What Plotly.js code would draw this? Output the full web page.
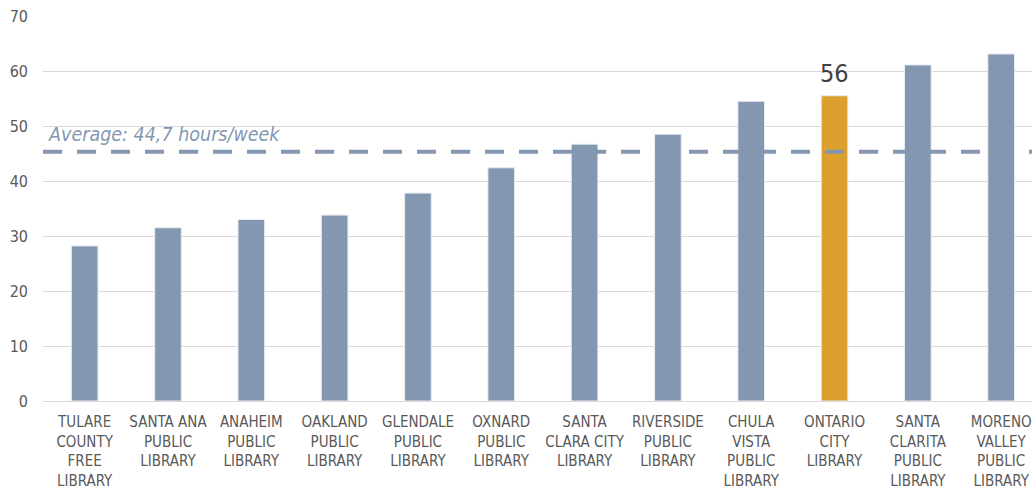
<!DOCTYPE html>
<html>
<head>
<meta charset="utf-8">
<script src="https://cdn.plot.ly/plotly-3.0.1.min.js"></script>
<style>html,body{margin:0;padding:0;background:#fff;}#chart{width:1032px;height:489px;}</style>
</head>
<body>
<div id="chart"></div>
<script>
const libraries = [
  "TULARE<br>COUNTY<br>FREE<br>LIBRARY",
  "SANTA ANA<br>PUBLIC<br>LIBRARY",
  "ANAHEIM<br>PUBLIC<br>LIBRARY",
  "OAKLAND<br>PUBLIC<br>LIBRARY",
  "GLENDALE<br>PUBLIC<br>LIBRARY",
  "OXNARD<br>PUBLIC<br>LIBRARY",
  "SANTA<br>CLARA CITY<br>LIBRARY",
  "RIVERSIDE<br>PUBLIC<br>LIBRARY",
  "CHULA<br>VISTA<br>PUBLIC<br>LIBRARY",
  "ONTARIO<br>CITY<br>LIBRARY",
  "SANTA<br>CLARITA<br>PUBLIC<br>LIBRARY",
  "MORENO<br>VALLEY<br>PUBLIC<br>LIBRARY"
];
const hoursPerWeek = [28.2, 31.5, 33.0, 33.8, 37.8, 42.4, 46.7, 48.5, 54.5, 55.5, 61.1, 63.1];
const highlightIndex = 9;
const highlightLabel = "56";
const averageLineValue = 45.3;
const averageText = "Average: 44,7 hours/week";
const yTicks = [0, 10, 20, 30, 40, 50, 60, 70];

const baseColor = "#8497b0";
const highlightColor = "#dda02e";
const FONT = "'Liberation Sans Narrow', 'Arial Narrow', 'DejaVu Sans Condensed', sans-serif";

const colors = hoursPerWeek.map((v, i) => i === highlightIndex ? highlightColor : baseColor);
const xIdx = libraries.map((_, i) => i);

const trace = {
  type: "bar",
  x: xIdx,
  y: hoursPerWeek,
  width: 0.32,
  marker: {color: colors, line: {color: "#e8edf3", width: 1}},
  hoverinfo: "skip"
};

const layout = {
  width: 1032,
  height: 489,
  margin: {l: 43, r: 0, t: 16, b: 88},
  paper_bgcolor: "#ffffff",
  plot_bgcolor: "#ffffff",
  showlegend: false,
  font: {family: FONT, size: 15, color: "#595959"},
  xaxis: {
    tickmode: "array",
    tickvals: xIdx,
    ticktext: libraries,
    range: [-0.5, 11.37],
    showgrid: false,
    zeroline: false,
    showline: false,
    ticks: "",
    ticklabelstandoff: 10,
    tickfont: {family: FONT, size: 15, color: "#595959"}
  },
  yaxis: {
    range: [0, 70],
    tickmode: "array",
    tickvals: yTicks,
    showgrid: true,
    gridcolor: "#d9d9d9",
    gridwidth: 1,
    zeroline: true,
    zerolinecolor: "#d9d9d9",
    zerolinewidth: 1,
    showline: false,
    ticks: "",
    ticklabelstandoff: 14,
    tickfont: {family: FONT, size: 16, color: "#595959"}
  },
  shapes: [{
    type: "line",
    xref: "paper", x0: 0, x1: 1,
    yref: "y", y0: averageLineValue, y1: averageLineValue,
    line: {color: baseColor, width: 4, dash: "19px,15px"},
    layer: "above"
  }],
  annotations: [
    {
      x: highlightIndex, y: hoursPerWeek[highlightIndex],
      xref: "x", yref: "y",
      text: highlightLabel,
      showarrow: false,
      yanchor: "bottom", yshift: 6,
      font: {family: FONT, size: 25, color: "#404040"}
    },
    {
      x: 0.003, y: averageLineValue,
      xref: "paper", yref: "y",
      text: "<i>" + averageText + "</i>",
      showarrow: false,
      xanchor: "left", yanchor: "bottom", yshift: 4,
      font: {family: FONT, size: 19.5, color: baseColor}
    }
  ]
};

Plotly.newPlot("chart", [trace], layout, {staticPlot: true, displayModeBar: false});
</script>
</body>
</html>
